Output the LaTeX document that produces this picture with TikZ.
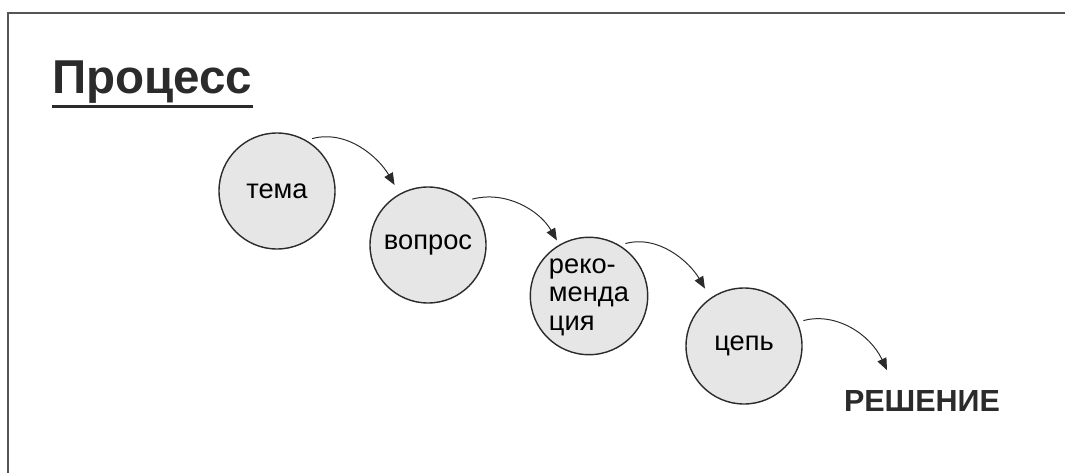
\documentclass[tikz,border=0pt]{standalone}
\usepackage{fontspec}
\setmainfont{Liberation Sans}
\usetikzlibrary{arrows.meta}
\definecolor{circfill}{HTML}{E6E6E7}
\definecolor{inkgray}{HTML}{2B2B2B}
\definecolor{framegray}{HTML}{555555}
\tikzset{
  proc/.style={circle,draw=inkgray,line width=1pt,fill=circfill,
    minimum size=2.9cm,inner sep=0pt,font=\fontsize{19.4}{21}\selectfont},
  flow/.style={-{Triangle[length=0.3cm,width=0.24cm]},line width=0.7pt,draw=inkgray,
    shorten <=0.15cm}
}
\newcommand{\procnode}[3]{%
  \node[proc] (#1) at (#2) {#3};
}

\begin{document}
\begin{tikzpicture}
  \useasboundingbox (0,0) rectangle (26.625,11.8);
  \draw[framegray,line width=1.4pt] (0.2,-0.2) -- (0.2,11.475) -- (26.8,11.475);

  \node[anchor=base west,inner sep=0pt,text=inkgray,
    font=\bfseries\fontsize{33.8}{36}\selectfont] (title) at (1.3,9.45) {Процесс};
  \draw[inkgray,line width=2pt] ([yshift=-0.05cm]title.south west) -- ([yshift=-0.05cm]title.south east);

  \procnode{tema}{6.925,7.025}{тема}
  \procnode{vopros}{10.7,5.675}{вопрос}
  \procnode{reko}{14.725,4.4}{\begin{tabular}{@{}l@{}}реко-\\[-1pt]менда\\[-1pt]ция\end{tabular}}
  \procnode{cep}{18.6,3.15}{цепь}

  \node[inner sep=0pt,text=inkgray,font=\bfseries\fontsize{21.7}{24}\selectfont]
    (resh) at (23.05,1.775) {РЕШЕНИЕ};

  \draw[flow,shorten >=0.25cm] (tema.60) to[out=15,in=120] (vopros.119);
  \draw[flow,shorten >=0.12cm] (vopros.49) to[out=15,in=120] (reko.120);
  \draw[flow,shorten >=0.27cm] (reko.59) to[out=15,in=120] (cep.125);
  \draw[flow] (cep.24) to[out=15,in=115] ([shift={(-0.875,0.5)}]resh.north);
\end{tikzpicture}
\end{document}
